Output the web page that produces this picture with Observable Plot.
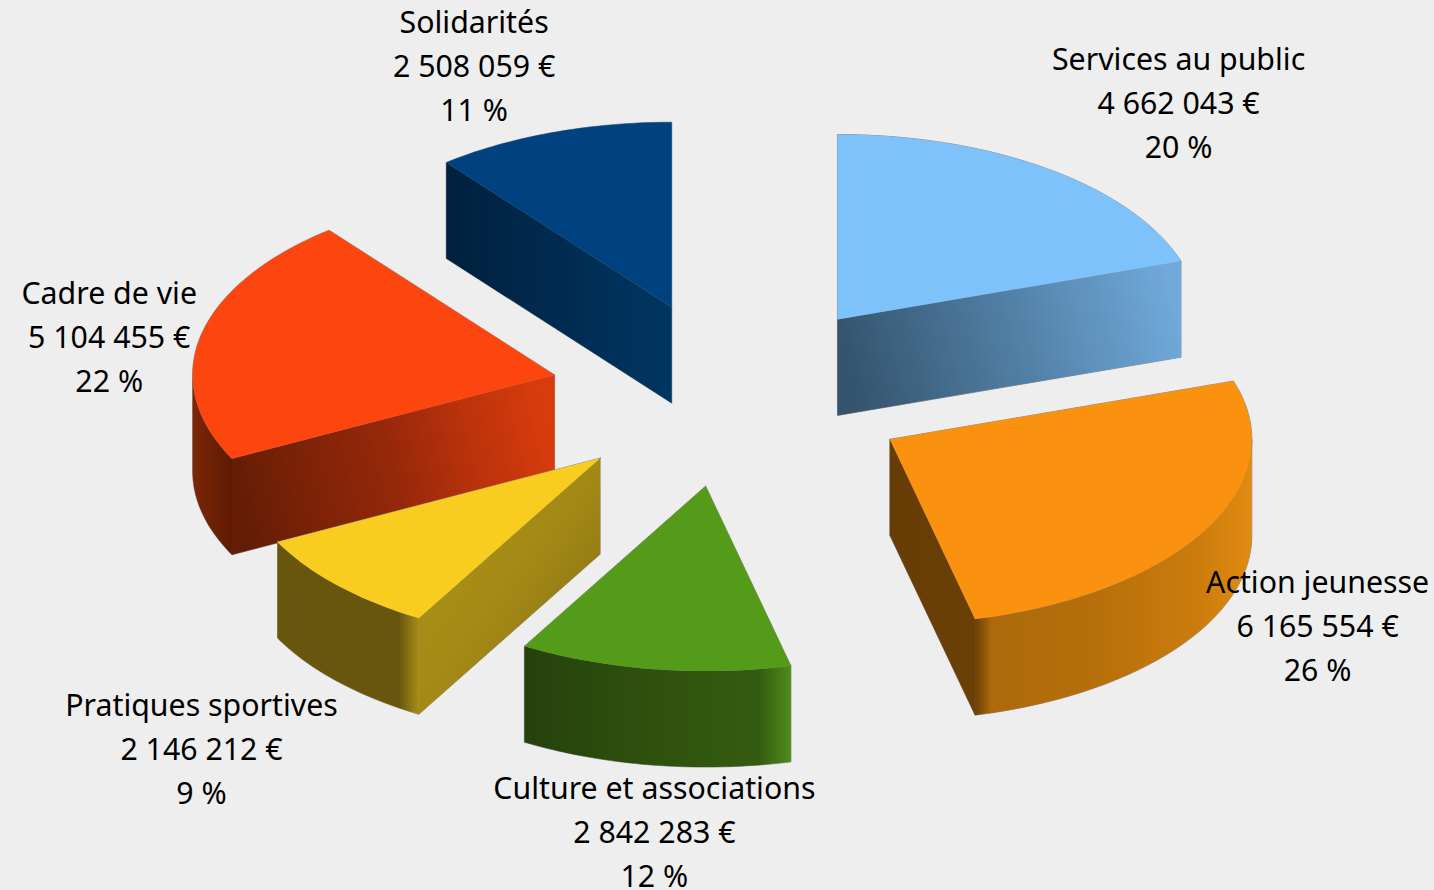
<!DOCTYPE html>
<html lang="fr">
<head>
<meta charset="utf-8">
<script src="https://cdn.jsdelivr.net/npm/d3@7"></script>
<script src="https://cdn.jsdelivr.net/npm/@observablehq/plot@0.6"></script>
<style>
  html, body { margin: 0; padding: 0; background: #eeeeee; }
  svg { display: block; }
</style>
</head>
<body>
<script>
// Data, clockwise from 12 o'clock
const categories = ["Services au public", "Action jeunesse", "Culture et associations", "Pratiques sportives", "Cadre de vie", "Solidarités"];
const amounts = [4662043, 6165554, 2842283, 2146212, 5104455, 2508059];
const topColors = ["#7dc2fa", "#fa910f", "#549b1a", "#f9cd1f", "#fd450f", "#00427f"];

// Label anchors, in pie units (radius = 1)
const labelX = [1.235, 1.619, -0.213, -1.464, -1.719, -0.711];
const labelY = [1.590, -1.237, -2.346, -1.897, 0.330, 1.791];

// Layout of the tilted pie
const W = 1434, H = 890, cx = 731, cy = 394, rx = 362, ry = 185;
const explode = 0.5, depth = 96 / ry;
const drawOrder = [5, 0, 4, 1, 3, 2];

// Side-face gradients: direction in the face's box, then [offset, colour]
const radialStops = {
  0: { dir: [0, 0.56, 1, 0.44], stops: [[0, "#34536c"], [0.5, "#507ea3"], [1, "#70a9da"]] },
  1: { dir: [0, 0, 1, 0], stops: [[0, "#673c05"], [1, "#6b4007"]] },
  3: { dir: [0, 0, 1, 1], stops: [[0.3, "#a78e18"], [0.5, "#a38a16"], [0.87, "#8a7112"]] },
  4: { dir: [0, 0.57, 1, 0.43], stops: [[0, "#641d05"], [0.25, "#7f2307"], [0.5, "#96280a"], [0.75, "#bb320b"], [1, "#d83c0d"]] },
  5: { dir: [0, 0, 1, 0], stops: [[0, "#00203e"], [1, "#003662"]] }
};
const rimStops = {
  1: { dir: [0, 0, 1, 0], stops: [[0, "#6a3f06"], [0.06, "#ad690a"], [0.4, "#b56e0b"], [0.8, "#cb7c0d"], [1, "#e08b11"]] },
  2: { dir: [0, 0, 1, 0], stops: [[0, "#25420c"], [0.5, "#2f520e"], [0.88, "#345c10"], [1, "#4f8c1b"]] },
  3: { dir: [0, 0, 1, 0], stops: [[0, "#68560c"], [0.86, "#68560c"], [1, "#a68d18"]] },
  4: { dir: [0, 0, 1, 0], stops: [[0, "#7c2607"], [1, "#5d1b03"]] }
};

const total = d3.sum(amounts);
const deg = Math.PI / 180;
const groupFmt = (v) => String(v).replace(/\B(?=(\d{3})+$)/g, " ");

let acc = 0;
const slices = amounts.map((v, i) => {
  const a0 = acc, a1 = (acc += (v / total) * 360), mid = (a0 + a1) / 2;
  return {
    i, a0, a1,
    ox: explode * Math.sin(mid * deg),
    oy: explode * Math.cos(mid * deg)
  };
});

const arc = (s, from, to, dz) => {
  const n = Math.max(2, Math.ceil(to - from));
  return d3.range(n + 1).map((k) => {
    const t = (from + ((to - from) * k) / n) * deg;
    return { x: s.ox + Math.sin(t), y: s.oy + Math.cos(t) - dz };
  });
};
const closed = (pts) => [...pts, pts[0]];

function facesOf(s) {
  const apex = (dz) => ({ x: s.ox, y: s.oy - dz });
  const faces = [];
  const wall = (angle, grad, id) => {
    const e = arc(s, angle, angle, 0)[0];
    faces.push({ id, grad, pts: closed([apex(0), e, { x: e.x, y: e.y - depth }, apex(depth)]) });
  };
  if (s.a0 > 180) wall(s.a0, radialStops[s.i], `w${s.i}`);
  if (s.a1 < 180) wall(s.a1, radialStops[s.i], `w${s.i}`);
  const f = Math.max(s.a0, 90), t = Math.min(s.a1, 270);
  if (f < t) {
    faces.push({
      id: `r${s.i}`,
      grad: rimStops[s.i],
      pts: closed([...arc(s, f, t, 0), ...arc(s, f, t, depth).reverse()])
    });
  }
  return faces;
}

const gradients = () => {
  const defs = d3.create("svg:defs");
  slices.forEach((s) => {
    facesOf(s).forEach((f) => {
      const [x1, y1, x2, y2] = f.grad.dir;
      const g = defs.append("linearGradient").attr("id", f.id)
        .attr("x1", x1).attr("y1", y1).attr("x2", x2).attr("y2", y2);
      f.grad.stops.forEach(([o, c]) => g.append("stop").attr("offset", o).attr("stop-color", c));
    });
  });
  return defs.node();
};

const marks = [gradients];
drawOrder.forEach((i) => {
  const s = slices[i];
  const faces = facesOf(s);
  const top = closed([{ x: s.ox, y: s.oy }, ...arc(s, s.a0, s.a1, 0)]);
  [...faces.map((f) => f.pts), top].forEach((pts) =>
    marks.push(Plot.line(pts, { x: "x", y: "y", stroke: "#8f8f8f", strokeWidth: 1 })));
  faces.forEach((f) =>
    marks.push(Plot.line(f.pts, { x: "x", y: "y", fill: `url(#${f.id})`, stroke: "none" })));
  marks.push(Plot.line(top, { x: "x", y: "y", fill: topColors[i], stroke: "none" }));
});

const labels = categories.map((c, i) => ({
  x: labelX[i], y: labelY[i],
  text: `${c}\n${groupFmt(amounts[i])} €\n${Math.round((amounts[i] / total) * 100)} %`
}));
marks.push(Plot.text(labels, {
  x: "x", y: "y", text: "text",
  fontSize: 30.3, lineHeight: 44 / 30.3, textAnchor: "middle", lineAnchor: "middle",
  fill: "#000", fontFamily: "Noto Sans", stroke: "none"
}));

const chart = Plot.plot({
  width: W, height: H, margin: 0,
  x: { axis: null, domain: [-cx / rx, (W - cx) / rx], range: [0, W] },
  y: { axis: null, domain: [(cy - H) / ry, cy / ry], range: [H, 0] },
  style: { background: "#eeeeee", overflow: "visible" },
  marks
});
document.body.appendChild(chart);
</script>
</body>
</html>
